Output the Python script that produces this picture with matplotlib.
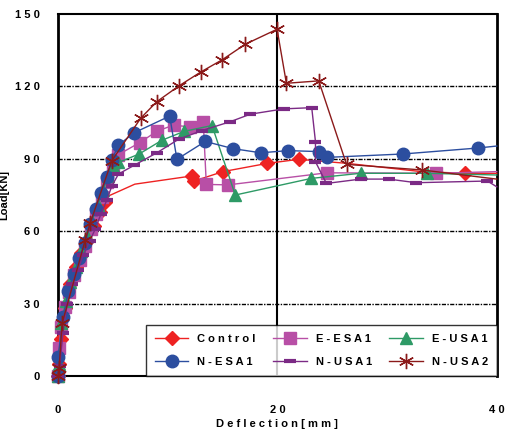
import matplotlib
matplotlib.use("Agg")
import matplotlib.pyplot as plt

plt.rcParams['font.family'] = ['Liberation Sans', 'DejaVu Sans']

# -------------- DATA --------------
ctrl_x = [0, 0.1, 0.25, 0.6, 1.1, 1.6, 2.1, 2.6, 3.3, 3.8, 4.3, 4.45, 7.0, 12.2, 12.4, 15.04, 19.06, 21.95, 26.4, 33.1, 37.1, 40]
ctrl_y = [0, 5, 15.2, 28, 38, 45, 51, 56, 62, 68, 72, 74.3, 79.5, 82.9, 80.8, 84.7, 88.1, 89.8, 88.1, 84.7, 84.0, 84.0]
ctrl_marks = [0, 1, 2, 3, 4, 5, 6, 7, 8, 9, 10, 13, 14, 15, 16, 17, 20]

eesa_x = [0, 0.1, 0.25, 0.65, 1.0, 1.5, 2.0, 2.5, 3.0, 3.5, 4.0, 4.5, 5.0, 5.45, 7.44, 9.01, 10.53, 11.99, 13.24, 13.52, 15.5, 24.5, 34.5, 40]
eesa_y = [0, 11.5, 20.2, 28.7, 35, 42, 48, 54, 61, 67, 74, 80.5, 86, 91.6, 96.7, 101.4, 104.0, 103.2, 105.4, 79.4, 79.2, 84.2, 84.0, 84.7]

eusa_x = [0, 0.1, 0.3, 0.7, 1.1, 1.6, 2.1, 2.6, 3.1, 3.6, 4.1, 4.6, 5.0, 5.5, 7.4, 9.47, 11.51, 14.04, 16.16, 23.1, 27.58, 33.6, 40]
eusa_y = [0, 5, 22, 31, 39, 45, 52, 58, 64, 71, 77, 83, 87, 88.5, 92.0, 97.7, 101.4, 103.8, 75.0, 81.9, 84.0, 84.0, 83.3]

nesa_x = [0, 0, 0.48, 0.94, 1.46, 1.92, 2.47, 2.92, 3.44, 3.93, 4.45, 4.90, 5.51, 6.94, 10.18, 10.84, 13.42, 15.98, 18.49, 20.98, 23.77, 24.54, 31.44, 38.33, 40]
nesa_y = [0, 8, 24.6, 35.4, 42.3, 48.8, 55.2, 63.0, 69.1, 75.7, 82.3, 89.5, 95.7, 100.8, 107.7, 89.8, 97.2, 94.2, 92.5, 93.4, 93.0, 90.6, 92.0, 94.5, 95.3]

nusa1_x = [0, 0.15, 0.45, 0.85, 1.3, 1.8, 2.3, 2.9, 3.4, 3.9, 4.45, 4.9, 5.51, 6.97, 9.01, 10.99, 13.12, 15.71, 17.53, 20.58, 23.13, 23.47, 23.47, 24.47, 27.58, 30.14, 32.65, 39.15, 40]
nusa1_y = [0, 4, 18, 30, 38, 44, 50, 56, 61, 67, 72.9, 78.7, 83.7, 87.4, 92.5, 98.1, 101.7, 105.4, 108.5, 110.7, 111.2, 97.1, 88.8, 79.8, 81.6, 81.6, 80.1, 80.8, 78.4]

nusa2_x = [0, 0.1, 0.37, 2.47, 2.95, 4.9, 7.55, 9.01, 11.05, 13.06, 14.95, 17.08, 19.97, 20.82, 23.77, 26.3, 33.15, 40]
nusa2_y = [0, 3.3, 21.8, 56.2, 63.6, 89.2, 106.9, 113.7, 120.3, 126.1, 131.0, 137.5, 143.7, 121.3, 122.3, 87.7, 85.4, 81.6]

y_ticks = [0, 30, 60, 90, 120, 150]
x_ticks = [0, 20, 40]
# -----------------------------------------------------------


def spaced(s):
    return " ".join(s)


fig = plt.figure(figsize=(5.09, 4.33), dpi=100)
ax = fig.add_axes([0.114, 0.1316, 0.862, 0.836])

# grid: dotted horizontals, solid vertical at 20
for yv in y_ticks[1:-1]:
    ax.axhline(yv, color="black", lw=1.0, ls=(0, (3, 1, 1, 1)), zorder=1)
ax.axvline(20, color="black", lw=1.5, zorder=1)

mk = dict(clip_on=False, lw=1.0, zorder=3)
h_ctrl, = ax.plot(ctrl_x, ctrl_y, color="#ee2222", marker="D", ms=7,
                  markevery=ctrl_marks, label=spaced("Control"), **mk)
h_eesa, = ax.plot(eesa_x, eesa_y, color="#b84fa6", marker="s", ms=8,
                  markevery=slice(0, -1), label=spaced("E-ESA1"), **mk)
h_eusa, = ax.plot(eusa_x, eusa_y, color="#2e9a66", marker="^", ms=9,
                  markevery=slice(0, -1), label=spaced("E-USA1"), **mk)
h_nesa, = ax.plot(nesa_x, nesa_y, color="#2c4e9f", marker="o", ms=9,
                  markevery=slice(0, -1), label=spaced("N-ESA1"), **mk)
h_nusa1, = ax.plot(nusa1_x, nusa1_y, color="#7b2a85", marker="_", ms=9,
                   mew=3, markevery=slice(0, -1), label=spaced("N-USA1"), **mk)
h_nusa2, = ax.plot(nusa2_x, nusa2_y, color="#8b1a1a", marker=(6, 2, 0), ms=11,
                   mew=1.0, markevery=slice(0, -1), label=spaced("N-USA2"), **mk)

ax.set_xlim(0, 40)
ax.set_ylim(0, 150)
ax.set_xticks(x_ticks)
ax.set_xticklabels([spaced(str(v)) for v in x_ticks])
ax.set_yticks(y_ticks)
ax.set_yticklabels([spaced(str(v)) for v in y_ticks])
ax.tick_params(axis="both", length=0, labelsize=8)
ax.tick_params(axis="x", pad=21)
ax.tick_params(axis="y", pad=13)
for lab in ax.get_xticklabels() + ax.get_yticklabels():
    lab.set_fontweight("bold")

for side in ["left", "right"]:
    ax.spines[side].set_linewidth(2.0)
for side in ["top", "bottom"]:
    ax.spines[side].set_linewidth(1.5)

ax.set_xlabel(spaced("Deflection[mm]"), fontsize=8, fontweight="bold", labelpad=3)
ax.set_ylabel("Load[KN]", fontsize=8, fontweight="bold", labelpad=4)

leg = ax.legend(handles=[h_ctrl, h_nesa, h_eesa, h_nusa1, h_eusa, h_nusa2],
                ncol=3, loc="lower right", borderaxespad=0, fancybox=False,
                edgecolor="black", handlelength=3.0,
                columnspacing=1.6, labelspacing=1.2, borderpad=0.8,
                prop={"weight": "bold", "size": 8})
leg.get_frame().set_linewidth(1.0)
leg.set_zorder(5)

fig.savefig("out.png", dpi=100)
